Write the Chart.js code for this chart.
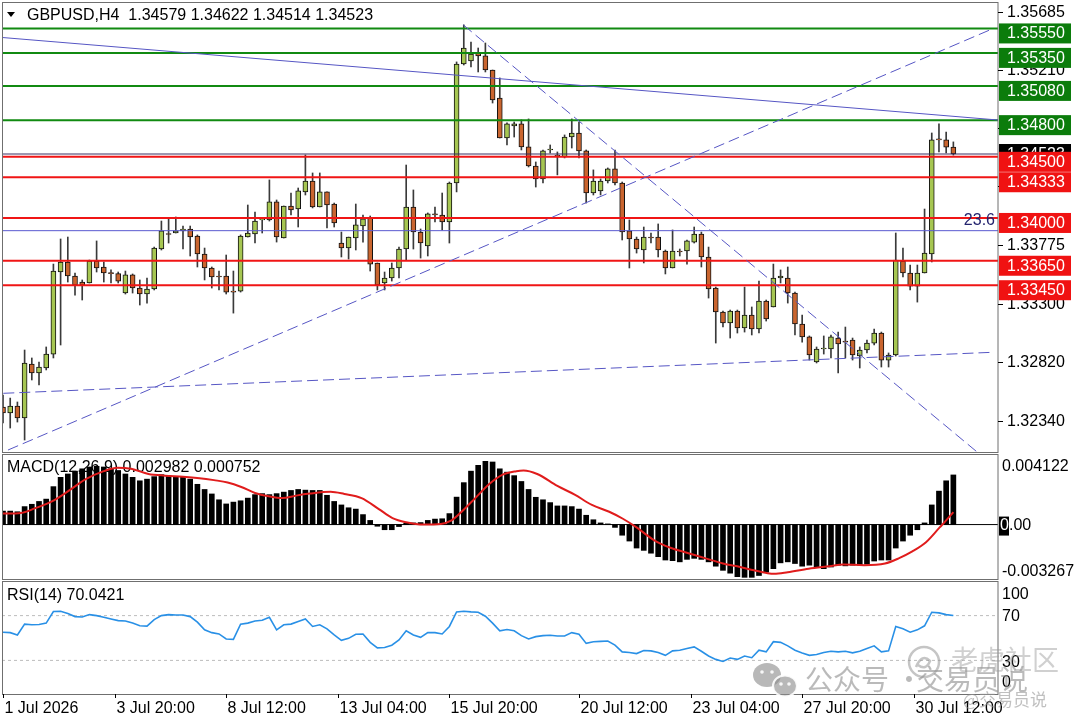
<!DOCTYPE html>
<html>
<head>
<meta charset="utf-8">
<script src="https://cdn.jsdelivr.net/npm/chart.js@4.4.1/dist/chart.umd.min.js"></script>
<style>
  html, body { margin: 0; padding: 0; background: #fff; }
  #wrap { position: relative; width: 1080px; height: 720px; overflow: hidden; background: #fff; }
  canvas { position: absolute; left: 0; }
</style>
</head>
<body>
<div id="wrap">
  <canvas id="main" width="1080" height="456" style="top:0"></canvas>
  <canvas id="macd" width="1080" height="130" style="top:453px"></canvas>
  <canvas id="rsi" width="1080" height="139" style="top:581px"></canvas>
</div>
<script>
// GBPUSD H4 candles
const opens = [1.32454,1.32405,1.32462,1.32364,1.32806,1.32732,1.32773,1.32887,1.33558,1.33640,
  1.33525,1.33476,1.33468,1.33648,1.33599,1.33550,1.33545,1.33386,1.33534,1.33427,
  1.33378,1.33419,1.33746,1.33869,1.33877,1.33894,1.33910,1.33852,1.33705,1.33591,
  1.33525,1.33525,1.33402,1.33402,1.33844,1.33869,1.33984,1.33984,1.34131,1.33836,
  1.34098,1.34073,1.34213,1.34302,1.34090,1.34213,1.34114,1.33795,1.33754,1.33836,
  1.33934,1.34000,1.33632,1.33468,1.33509,1.33591,1.33746,1.34090,1.33885,1.33771,
  1.34033,1.34024,1.33967,1.34286,1.35259,1.35284,1.35349,1.35325,1.35210,1.34981,
  1.34654,1.34752,1.34769,1.34581,1.34425,1.34319,1.34556,1.34515,1.34499,1.34662,
  1.34695,1.34548,1.34204,1.34221,1.34302,1.34401,1.34286,1.33894,1.33828,1.33738,
  1.33844,1.33844,1.33730,1.33591,1.33730,1.33730,1.33803,1.33869,1.33681,1.33427,
  1.33231,1.33141,1.33239,1.33100,1.33206,1.33092,1.33321,1.33272,1.33509,1.33509,
  1.33386,1.33133,1.33027,1.32822,1.32928,1.32928,1.33018,1.32994,1.33002,1.32871,
  1.32920,1.32977,1.33059,1.32838,1.32879,1.33648,1.33550,1.33443,1.33550,1.33705,
  1.34646,1.34640,1.34579];
const highs = [1.32552,1.32527,1.32495,1.32920,1.32855,1.32822,1.32945,1.33623,1.33828,1.33844,
  1.33550,1.33493,1.33656,1.33812,1.33640,1.33575,1.33558,1.33566,1.33542,1.33493,
  1.33509,1.33762,1.33975,1.34000,1.34008,1.33934,1.33934,1.33861,1.33754,1.33599,
  1.33566,1.33697,1.33566,1.33861,1.34106,1.34049,1.34000,1.34311,1.34147,1.34098,
  1.34204,1.34245,1.34515,1.34368,1.34368,1.34213,1.34122,1.33885,1.33844,1.34114,
  1.34024,1.34016,1.33632,1.33558,1.33632,1.33762,1.34433,1.34229,1.33910,1.34041,
  1.34090,1.34204,1.34294,1.35276,1.35579,1.35439,1.35390,1.35431,1.35210,1.35145,
  1.34777,1.34785,1.34802,1.34810,1.34458,1.34556,1.34597,1.34540,1.34679,1.34810,
  1.34785,1.34556,1.34393,1.34319,1.34409,1.34556,1.34294,1.33984,1.33844,1.33926,
  1.33877,1.33951,1.33738,1.33902,1.33746,1.33820,1.33926,1.33885,1.33762,1.33435,
  1.33239,1.33247,1.33247,1.33435,1.33272,1.33484,1.33329,1.33623,1.33575,1.33599,
  1.33394,1.33206,1.33035,1.32945,1.33035,1.33043,1.33067,1.33108,1.33018,1.32945,
  1.33002,1.33092,1.33067,1.32896,1.33877,1.33754,1.33615,1.33615,1.34073,1.34695,
  1.34769,1.34703,1.34622];
const lows = [1.32323,1.32282,1.32331,1.32184,1.32675,1.32634,1.32757,1.32855,1.32961,1.33476,
  1.33369,1.33329,1.33468,1.33558,1.33476,1.33468,1.33468,1.33378,1.33386,1.33288,
  1.33304,1.33411,1.33738,1.33795,1.33877,1.33746,1.33689,1.33599,1.33493,1.33427,
  1.33411,1.33378,1.33222,1.33394,1.33844,1.33795,1.33877,1.33975,1.33803,1.33836,
  1.34024,1.33926,1.34188,1.34082,1.34090,1.33918,1.33926,1.33681,1.33664,1.33738,
  1.33803,1.33566,1.33411,1.33411,1.33484,1.33509,1.33656,1.33746,1.33672,1.33689,
  1.33967,1.33902,1.33795,1.34213,1.35251,1.35235,1.35194,1.35194,1.34940,1.34654,
  1.34597,1.34662,1.34556,1.34417,1.34253,1.34286,1.34531,1.34352,1.34491,1.34572,
  1.34491,1.34122,1.34188,1.34188,1.34286,1.34270,1.33820,1.33591,1.33713,1.33632,
  1.33795,1.33681,1.33542,1.33591,1.33689,1.33623,1.33795,1.33599,1.33345,1.32977,
  1.33108,1.33018,1.33059,1.33067,1.33043,1.33059,1.33157,1.33272,1.33468,1.33304,
  1.33043,1.32985,1.32838,1.32814,1.32887,1.32855,1.32732,1.32855,1.32838,1.32773,
  1.32896,1.32961,1.32781,1.32781,1.32871,1.33517,1.33411,1.33312,1.33550,1.33640,
  1.34540,1.34531,1.34514];
const closes = [1.32405,1.32462,1.32364,1.32814,1.32732,1.32781,1.32887,1.33566,1.33640,1.33525,
  1.33451,1.33451,1.33648,1.33591,1.33550,1.33545,1.33484,1.33534,1.33427,1.33378,
  1.33419,1.33754,1.33894,1.33865,1.33894,1.33910,1.33844,1.33705,1.33591,1.33517,
  1.33517,1.33394,1.33394,1.33852,1.33877,1.33975,1.33992,1.34131,1.33844,1.34098,
  1.34065,1.34221,1.34302,1.34090,1.34213,1.34106,1.33959,1.33754,1.33844,1.33943,
  1.33992,1.33623,1.33451,1.33509,1.33591,1.33746,1.34090,1.33885,1.33795,1.34033,
  1.34024,1.33967,1.34286,1.35259,1.35390,1.35341,1.35325,1.35210,1.34965,1.34654,
  1.34769,1.34769,1.34581,1.34425,1.34319,1.34548,1.34564,1.34507,1.34662,1.34695,
  1.34548,1.34204,1.34302,1.34302,1.34401,1.34286,1.33885,1.33828,1.33746,1.33844,
  1.33836,1.33738,1.33591,1.33730,1.33722,1.33812,1.33869,1.33681,1.33419,1.33231,
  1.33141,1.33239,1.33100,1.33206,1.33092,1.33321,1.33174,1.33509,1.33525,1.33386,
  1.33133,1.33027,1.32879,1.32928,1.32936,1.33027,1.32969,1.32985,1.32879,1.32920,
  1.32977,1.33059,1.32838,1.32879,1.33656,1.33550,1.33443,1.33550,1.33713,1.34638,
  1.34638,1.34579,1.34523];

// MACD(12,26,9) main line (histogram) and signal line
const macdHist = [0.00081,0.00081,0.00077,0.00108,0.00122,0.00139,0.00153,0.00228,0.00284,0.00304,
  0.00321,0.00335,0.00346,0.0035,0.00346,0.00335,0.00325,0.00304,0.00284,0.00263,
  0.00273,0.00288,0.003,0.00294,0.00288,0.00284,0.00273,0.00242,0.00211,0.00184,
  0.00149,0.00124,0.00135,0.00143,0.00159,0.0018,0.00186,0.0018,0.00186,0.00195,
  0.00205,0.00211,0.00207,0.00205,0.00205,0.00176,0.00139,0.00118,0.00101,0.00093,
  0.0006,0.00025,-0.0001,-0.00031,-0.00031,-0.00012,0.00008,0.0001,0.00012,0.00025,
  0.00033,0.00035,0.00066,0.00165,0.00252,0.00321,0.00356,0.0038,0.00376,0.00335,
  0.00315,0.00294,0.00259,0.00211,0.00164,0.00149,0.00132,0.00112,0.00112,0.00108,
  0.00093,0.00056,0.00029,0.0001,0.00004,-0.00017,-0.00064,-0.00099,-0.00141,-0.00155,
  -0.00172,-0.00193,-0.00213,-0.00217,-0.00224,-0.00209,-0.00203,-0.00209,-0.00224,-0.0025,
  -0.00275,-0.00292,-0.00313,-0.00317,-0.00317,-0.00306,-0.00286,-0.00265,-0.0023,-0.00224,
  -0.00234,-0.0025,-0.00244,-0.00255,-0.00265,-0.00255,-0.00244,-0.00248,-0.00244,-0.00244,
  -0.00238,-0.00219,-0.00213,-0.00213,-0.00141,-0.00099,-0.00064,-0.00031,0.0001,0.00118,
  0.00201,0.00263,0.002982];
const sigPos = [0,2.5,4.4,6.8,9.2,11.5,14,15.9,17.8,20.2,22.5,25,27.3,29.3,31.2,33.1,35,36.9,38.8,40.7,
  42.6,45.5,47.4,49.8,52.2,54.1,56,58.4,60.8,62.3,63.7,65.6,67.5,69.4,71.3,72.3,74.2,77,79.4,81.8,
  84.2,86.1,88,90.4,92.8,95.2,97.6,100,102.4,104.3,106.2,107.1,109,111.9,114.8,116.7,119.6,122.5,124.4,126.3,
  128.2,130.1,131,132];
const sigVal = [0.00066,0.0007,0.00097,0.00139,0.00205,0.00273,0.00321,0.00342,0.00335,0.00304,
  0.00294,0.00288,0.00279,0.00267,0.00253,0.00226,0.0019,0.0017,0.00159,0.00174,
  0.00186,0.00197,0.00184,0.00159,0.00093,0.00039,0.00014,0,0.00004,0.00025,
  0.00077,0.00159,0.00242,0.003,0.00321,0.00325,0.00304,0.00232,0.0018,0.00118,
  0.00077,0.00035,-0.00017,-0.00093,-0.00141,-0.00172,-0.00203,-0.00234,-0.00255,-0.00275,
  -0.00292,-0.00296,-0.00286,-0.00265,-0.0025,-0.0024,-0.00244,-0.00234,-0.00203,-0.00161,
  -0.00106,-0.00017,0.00025,0.000752];

// RSI(14)
const rsiVal = [55.2,54.8,52.7,62.4,61.8,62.1,63.3,73.6,73.9,71.8,
  69.1,68.8,70.9,70,68.5,67,65.5,65.2,63.3,60.9,
  60.6,66.4,70,70.9,70.6,70.6,69.1,64.2,57.3,54.8,
  53.6,49.1,48.8,62.4,63.3,65.2,65.8,68.5,57.3,61.8,
  62.4,64.8,67,60.3,61.8,58.2,52.7,47.9,49.7,53.3,
  53.6,46.1,41.2,41.5,43.6,48.2,56.4,52.7,50.6,54.8,
  54.8,53.6,60.3,73.3,73.9,73.3,73,69.4,63.3,56.4,
  57.6,56.4,52.1,49.1,51.2,52.1,52.4,51.8,51.8,54.8,
  53.3,45.2,46.7,47,47.3,43.6,37.6,37,36.1,38.8,
  38.5,37,34.5,38.5,39.1,40.6,42.1,38.2,33.9,30.9,
  29.1,32.1,30.9,33.9,32.4,39.1,37.6,46.7,46.1,43,
  39.1,36.7,34.5,35.2,37,38.2,37.6,38.2,36.7,38.2,
  40.6,43,37.6,38.5,60.3,58.2,55.2,57.3,60.9,73,
  72.4,70.9,70.04];

// levels, trendlines, axis text
const greenLevels = [1.35550, 1.35350, 1.35080, 1.34800];
const redLevels = [1.34500, 1.34333, 1.34000, 1.33650, 1.33450];
const priceTicks = [1.35685, 1.35210, 1.34735, 1.34260, 1.33775, 1.33300, 1.32820, 1.32340];
const lastPrice = 1.34523;
const fibLevel = 1.33896;
const trendSolid = [[-0.14, 1.35476], [138.2, 1.34801]];
const trendUp = [[0.69, 1.32102], [137.4, 1.35546]];
const trendDown = [[63.93, 1.35579], [135.3, 1.32086]];
const trendFlat = [[0.04, 1.32566], [137.3, 1.32901]];
const dateTickPos = [0, 15.5, 31, 46.5, 62, 80, 95.5, 111, 126.5];
const dateLabels = ['1 Jul 2026', '3 Jul 20:00', '8 Jul 12:00', '13 Jul 04:00', '15 Jul 20:00',
  '20 Jul 12:00', '23 Jul 04:00', '27 Jul 20:00', '30 Jul 12:00'];

const X_MIN = -0.14, X_MAX = 138.2;
const FONT = '16px "Liberation Sans", Arial, sans-serif';
const BULL = '#a6c652', BEAR = '#c9652f';
const idx = opens.map((_, i) => i);

function hLine(v, color, width, dash) {
  return { type: 'line', data: [{ x: X_MIN, y: v }, { x: X_MAX, y: v }], borderColor: color,
    borderWidth: width, borderDash: dash || [], pointRadius: 0, fill: false, order: 3 };
}
function tLine(pts, dash) {
  return { type: 'line', data: pts.map(p => ({ x: p[0], y: p[1] })), borderColor: '#5656c4',
    borderWidth: 1, borderDash: dash || [], pointRadius: 0, fill: false, order: 1 };
}
function baseOptions(pad, ymin, ymax) {
  return {
    responsive: false, animation: false, events: [],
    layout: { padding: pad },
    plugins: { legend: { display: false }, tooltip: { enabled: false } },
    scales: {
      x: { type: 'linear', min: X_MIN, max: X_MAX, display: false, offset: false },
      y: { type: 'linear', min: ymin, max: ymax, display: false }
    }
  };
}
function paneBorder(chart) {
  const ctx = chart.ctx, a = chart.chartArea;
  ctx.save();
  ctx.strokeStyle = '#6f6f6f';
  ctx.lineWidth = 1;
  ctx.strokeRect(a.left + 0.5, a.top - 0.5, a.right - a.left - 0.5, a.bottom - a.top + 1);
  ctx.restore();
}

// ---------- main price pane ----------
const mainDeco = {
  id: 'mainDeco',
  afterDatasetsDraw(chart) {
    const ctx = chart.ctx, ys = chart.scales.y;
    ctx.save();
    ctx.font = FONT;
    ctx.fillStyle = '#23236e';
    ctx.textAlign = 'right';
    ctx.textBaseline = 'middle';
    ctx.fillText('23.6', 995, ys.getPixelForValue(fibLevel) - 10);
    ctx.restore();
  },
  afterDraw(chart) {
    const ctx = chart.ctx, ys = chart.scales.y;
    paneBorder(chart);
    ctx.save();
    // title
    ctx.fillStyle = '#000';
    ctx.beginPath(); ctx.moveTo(7, 12); ctx.lineTo(15, 12); ctx.lineTo(11, 17); ctx.closePath(); ctx.fill();
    ctx.font = FONT;
    ctx.textBaseline = 'middle';
    ctx.fillText('GBPUSD,H4  1.34579 1.34622 1.34514 1.34523', 27, 15.5);
    // price axis
    ctx.strokeStyle = '#000';
    ctx.lineWidth = 1;
    priceTicks.forEach(v => {
      const y = Math.round(ys.getPixelForValue(v)) + 0.5;
      ctx.beginPath(); ctx.moveTo(998, y); ctx.lineTo(1003, y); ctx.stroke();
      ctx.fillText(v.toFixed(5), 1007, y);
    });
    // price tags
    const tag = (v, bg, top) => {
      const y = ys.getPixelForValue(v);
      ctx.fillStyle = bg;
      ctx.fillRect(999, y - top, 72, 20);
      ctx.fillStyle = '#fff';
      ctx.fillText(v.toFixed(5), 1007, y - top + 10.5);
    };
    tag(lastPrice, '#000', 10);
    greenLevels.forEach(v => tag(v, '#0b7c0b', 5));
    redLevels.forEach(v => tag(v, '#f01212', 5));
    ctx.restore();
  }
};

new Chart(document.getElementById('main'), {
  type: 'line',
  data: {
    datasets: [
      ...greenLevels.map(v => hLine(v, '#118a11', 2)),
      ...redLevels.map(v => hLine(v, '#f01515', 2)),
      hLine(fibLevel, '#5a5ad0', 1),
      hLine(lastPrice, '#3b2e63', 1),
      { type: 'bar', data: idx.map(i => ({ x: i, y: [lows[i], highs[i]] })), backgroundColor: '#3a3a3a',
        barThickness: 1, grouped: false, order: 9 },
      { type: 'bar', data: idx.map(i => ({ x: i, y: [opens[i], closes[i]] })),
        backgroundColor: idx.map(i => closes[i] >= opens[i] ? BULL : BEAR),
        borderColor: '#111', borderWidth: 1, borderSkipped: false, barThickness: 5, minBarLength: 1,
        grouped: false, order: 8 },
      tLine(trendSolid),
      tLine(trendUp, [11, 5]),
      tLine(trendDown, [11, 5]),
      tLine(trendFlat, [11, 5])
    ]
  },
  options: baseOptions({ left: 2, right: 82, top: 3, bottom: 4 }, 1.32086, 1.35758),
  plugins: [mainDeco]
});

// ---------- MACD pane ----------
const macdDeco = {
  id: 'macdDeco',
  beforeDatasetsDraw(chart) {
    const ctx = chart.ctx;
    ctx.save();
    ctx.font = FONT; ctx.fillStyle = '#000'; ctx.textBaseline = 'middle';
    ctx.fillText('MACD(12,26,9) 0.002982 0.000752', 7, 15);
    ctx.restore();
  },
  afterDraw(chart) {
    const ctx = chart.ctx, ys = chart.scales.y;
    paneBorder(chart);
    ctx.save();
    ctx.font = FONT; ctx.textBaseline = 'middle'; ctx.fillStyle = '#000';
    ctx.fillText('0.004122', 1002, ys.getPixelForValue(0.00418) + 12);
    ctx.fillText('-0.003267', 1002, ys.getPixelForValue(-0.00327) - 7);
    const y0 = ys.getPixelForValue(0) + 1;
    ctx.fillRect(999, y0 - 9, 10, 19);
    ctx.fillStyle = '#fff'; ctx.fillText('0', 1000, y0);
    ctx.fillStyle = '#000'; ctx.fillText('.00', 1009, y0);
    ctx.restore();
  }
};

new Chart(document.getElementById('macd'), {
  type: 'line',
  data: {
    datasets: [
      hLine(0, '#000', 1),
      { type: 'bar', data: idx.map(i => ({ x: i, y: macdHist[i] })), backgroundColor: '#000',
        barThickness: 5, grouped: false, order: 2 },
      { type: 'line', data: sigPos.map((p, k) => ({ x: p, y: sigVal[k] })), borderColor: '#e01c1c',
        borderWidth: 2, pointRadius: 0, fill: false, cubicInterpolationMode: 'monotone', order: 0 }
    ]
  },
  options: baseOptions({ left: 2, right: 82, top: 2, bottom: 4 }, -0.00327, 0.00418),
  plugins: [macdDeco]
});

// ---------- RSI pane + time axis ----------
const rsiDeco = {
  id: 'rsiDeco',
  beforeDatasetsDraw(chart) {
    const ctx = chart.ctx;
    ctx.save();
    ctx.font = FONT; ctx.fillStyle = '#000'; ctx.textBaseline = 'middle';
    ctx.fillText('RSI(14) 70.0421', 7, 15);
    ctx.restore();
  },
  afterDraw(chart) {
    const ctx = chart.ctx, ys = chart.scales.y, xs = chart.scales.x, a = chart.chartArea;
    paneBorder(chart);
    ctx.save();
    ctx.font = FONT; ctx.textBaseline = 'middle'; ctx.fillStyle = '#000';
    ctx.fillText('100', 1002, ys.getPixelForValue(100) + 12.5);
    ctx.fillText('70', 1002, ys.getPixelForValue(70) + 0.5);
    ctx.fillText('30', 1002, ys.getPixelForValue(30) + 2);
    ctx.fillText('0', 1002, ys.getPixelForValue(0) - 11.5);
    // time axis
    ctx.strokeStyle = '#000'; ctx.lineWidth = 1;
    dateTickPos.forEach((p, k) => {
      const x = Math.round(xs.getPixelForValue(p)) + 0.5;
      ctx.beginPath(); ctx.moveTo(x, a.bottom); ctx.lineTo(x, a.bottom + 4); ctx.stroke();
      ctx.fillText(dateLabels[k], x + 1, a.bottom + 15);
    });
    // watermark
    ctx.fillStyle = 'rgba(140,140,140,0.62)';
    ctx.beginPath(); ctx.ellipse(767, 94, 14, 12, 0, 0, Math.PI * 2); ctx.fill();
    ctx.strokeStyle = 'rgba(255,255,255,0.9)'; ctx.lineWidth = 2;
    ctx.beginPath(); ctx.ellipse(785, 105, 12, 10.5, 0, 0, Math.PI * 2); ctx.fill(); ctx.stroke();
    ctx.fillStyle = 'rgba(255,255,255,0.9)';
    [[762, 91], [772, 91], [781, 103], [789, 103]].forEach(p => {
      ctx.beginPath(); ctx.arc(p[0], p[1], 1.8, 0, Math.PI * 2); ctx.fill();
    });
    ctx.fillStyle = 'rgba(140,140,140,0.6)';
    ctx.font = '28px "Noto Sans CJK SC", sans-serif';
    ctx.fillText('公众号', 805, 98);
    ctx.fillText('·', 895, 98);
    ctx.fillText('交易员说', 916, 98);
    ctx.strokeStyle = 'rgba(150,150,150,0.55)'; ctx.lineWidth = 2.5;
    ctx.beginPath(); ctx.arc(924, 81, 15, 0, Math.PI * 2); ctx.stroke();
    ctx.beginPath(); ctx.moveTo(916, 86); ctx.quadraticCurveTo(922, 72, 930, 80); ctx.quadraticCurveTo(926, 90, 918, 84); ctx.stroke();
    ctx.fillStyle = 'rgba(150,150,150,0.45)';
    ctx.font = '27px "Noto Sans CJK SC", sans-serif';
    ctx.fillText('老虎社区', 951, 79);
    ctx.fillStyle = 'rgba(150,150,150,0.6)';
    ctx.font = '17px "Noto Sans CJK SC", sans-serif';
    ctx.fillText('@交易员说', 963, 119);
    ctx.restore();
  }
};

new Chart(document.getElementById('rsi'), {
  type: 'line',
  data: {
    datasets: [
      hLine(70, '#bdbdbd', 1, [3, 3]),
      hLine(30, '#bdbdbd', 1, [3, 3]),
      { type: 'line', data: idx.map(i => ({ x: i, y: rsiVal[i] })), borderColor: '#2990e6',
        borderWidth: 1.6, pointRadius: 0, fill: false, tension: 0, order: 0 }
    ]
  },
  options: baseOptions({ left: 2, right: 82, top: 1, bottom: 26 }, 0, 100),
  plugins: [rsiDeco]
});
</script>
</body>
</html>
